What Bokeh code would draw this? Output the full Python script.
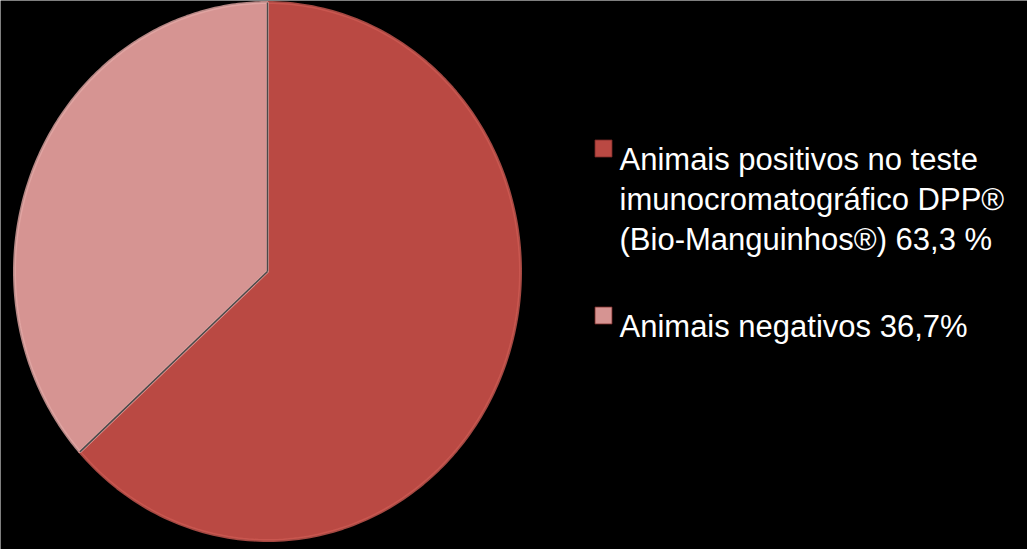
import numpy as np
from bokeh.plotting import figure
from bokeh.models import Range1d, ColumnDataSource
from bokeh.core.properties import value
from bokeh.embed import file_html
from bokeh.resources import INLINE

# ---- data ----
labels = ["Animais positivos no teste\nimunocromatográfico DPP®\n(Bio-Manguinhos®) 63,3 %",
          "Animais negativos 36,7%"]
values = [63.3, 36.7]
colors = ["#BA4943", "#D69492"]
rim_colors = ["#CD5A53", "#E2A7A5"]

W, H = 1027, 549
p = figure(width=W, height=H, output_backend="svg", toolbar_location=None,
           x_range=Range1d(0, W), y_range=Range1d(H, 0),
           min_border=0, background_fill_color="black", border_fill_color="black")
p.axis.visible = False
p.grid.visible = False
p.outline_line_color = None

# pie geometry (screen-like data units, y downwards)
cx, cy, rx, ry = 267, 271, 253, 269
fr = np.array(values) / np.sum(values)
starts = np.concatenate([[0], np.cumsum(fr)[:-1]])
ends = np.cumsum(fr)
xs, ys = [], []
for s, e in zip(starts, ends):
    t = np.linspace(s, e, 200) * 2 * np.pi  # clockwise from 12 o'clock
    px = cx + rx * np.sin(t)
    py = cy - ry * np.cos(t)
    xs.append(np.concatenate([[cx], px]))
    ys.append(np.concatenate([[cy], py]))
src = ColumnDataSource(dict(xs=xs, ys=ys, color=colors, rim=rim_colors))
p.patches("xs", "ys", source=src, fill_color="color", line_color="rim", line_width=3, line_alpha=0.8)

# separators
for s in starts:
    t = s * 2 * np.pi
    p.line([cx, cx + rx * np.sin(t)], [cy, cy - ry * np.cos(t)], line_color="#4a4a4a", line_width=1.5)

# legend
y = 159
lx_sq, lx_txt = 603, 619
for lab, col in zip(labels, colors):
    lines = lab.split("\n")
    p.scatter([lx_sq], [y - 11], marker="square", size=17, fill_color=col, line_color="#7a2a26", line_width=0.8)
    for i, ln in enumerate(lines):
        p.text([lx_txt], [y + 40 * i], text=[ln], text_color="white",
               text_font=value("Liberation Sans"), text_font_size="31px",
               text_baseline="alphabetic", text_align="left")
    y = y + 40 * (len(lines) - 1) + 87

open("out.html", "w").write(file_html(p, INLINE))
